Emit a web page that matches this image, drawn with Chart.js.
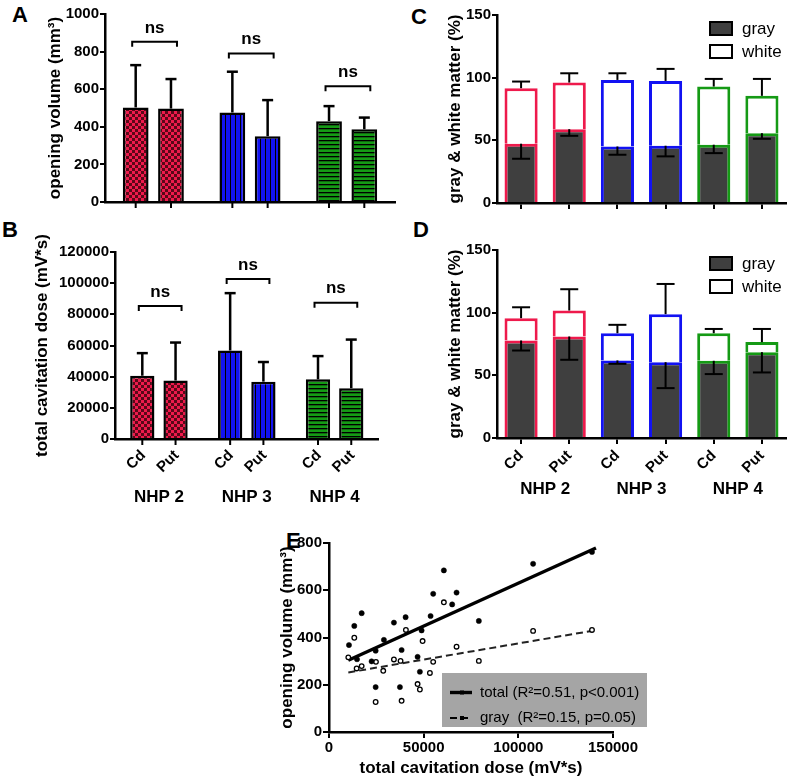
<!DOCTYPE html>
<html><head><meta charset="utf-8">
<script src="https://cdn.jsdelivr.net/npm/chart.js@4.4.1/dist/chart.umd.min.js"></script>
<style>
body{margin:0;background:#fff;width:787px;height:783px;position:relative;overflow:hidden;font-family:"Liberation Sans",Arial,sans-serif}
canvas{position:absolute}
.lt{position:absolute;font:bold 22px "Liberation Sans",Arial,sans-serif;line-height:22px;color:#000}
</style></head><body>
<div class="lt" style="left:12px;top:4px">A</div>
<div class="lt" style="left:2px;top:219px">B</div>
<div class="lt" style="left:411px;top:6px">C</div>
<div class="lt" style="left:413px;top:219px">D</div>
<div class="lt" style="left:286px;top:530px">E</div>
<canvas id="cA" width="400" height="220" style="left:0;top:0"></canvas>
<canvas id="cB" width="400" height="300" style="left:0;top:220px"></canvas>
<canvas id="cC" width="387" height="220" style="left:400px;top:0"></canvas>
<canvas id="cD" width="387" height="300" style="left:400px;top:220px"></canvas>
<canvas id="cE" width="430" height="258" style="left:240px;top:525px"></canvas>
<script>
// ---------------- data ----------------
const nhpGroups = ['NHP 2', 'NHP 3', 'NHP 4'];
const regions = ['Cd', 'Put'];
// A: opening volume (mm3)
const volumeCd = [503, 476, 430];
const volumeCdSD = [225, 217, 80];
const volumePut = [497, 350, 387];
const volumePutSD = [157, 192, 62];
const volumeBrackets = [852, 790, 616];
const volumeTicks = [0, 200, 400, 600, 800, 1000];
// B: total cavitation dose (mV*s)
const doseCd = [40600, 56800, 38300];
const doseCdSD = [14500, 36800, 14900];
const dosePut = [37500, 36800, 32600];
const dosePutSD = [24400, 12600, 31200];
const doseBrackets = [85400, 102600, 87500];
const doseTicks = [0, 20000, 40000, 60000, 80000, 100000, 120000];
// C, D: gray & white matter (%)
const barLabels = ['Cd', 'Put', 'Cd', 'Put', 'Cd', 'Put'];
const grayC = [47.3, 58.9, 45.1, 45.7, 46.5, 55.7];
const grayCSD = [12.0, 5.3, 6.6, 8.5, 6.7, 4.5];
const whiteC = [44.3, 37.2, 53.1, 51.7, 46.4, 29.8];
const whiteCSD = [5.3, 7.4, 5.3, 9.6, 6.1, 13.5];
const grayD = [77.8, 81.0, 61.9, 60.5, 61.6, 68.5];
const grayDSD = [8.0, 18.6, 2.7, 20.7, 10.6, 16.2];
const whiteD = [17.8, 20.7, 21.7, 38.3, 22.0, 8.0];
const whiteDSD = [8.7, 17.0, 6.7, 24.1, 3.4, 10.5];
const percentTicks = [0, 50, 100, 150];
// E: scatter
const totalDose = [10550, 13360, 17250, 14800, 22500, 24640, 24640, 29000, 34290, 40460, 38350, 37460, 46790, 48000, 48900, 53650, 55030, 60670, 65050, 67370, 79140, 107800, 138900];
const totalVolume = [368, 449, 503, 308, 299, 344, 190, 390, 463, 486, 347, 190, 318, 255, 430, 491, 585, 684, 540, 590, 470, 712, 762];
const grayDose = [10200, 13360, 14600, 17250, 24800, 28650, 34290, 37800, 40620, 49440, 55030, 53290, 46790, 48000, 60670, 67370, 79140, 107800, 138900, 24640, 38350];
const grayVolume = [316, 399, 269, 279, 297, 259, 307, 301, 432, 385, 297, 250, 203, 180, 549, 361, 301, 428, 432, 127, 132];
const totalFitDose = [10200, 141000];
const totalFitVolume = [304, 779];
const grayFitDose = [10200, 139500];
const grayFitVolume = [252, 429];
const scatterXTicks = [0, 50000, 100000, 150000];
const scatterYTicks = [0, 200, 400, 600, 800];

// ---------------- styles ----------------
const FONT = '"Liberation Sans", Arial, Helvetica, sans-serif';
Chart.defaults.font.family = FONT;
Chart.defaults.color = '#000';
Chart.defaults.animation = false;
Chart.defaults.plugins.legend.display = false;
Chart.defaults.plugins.tooltip.enabled = false;
const RED = '#ee1a4c', BLUE = '#1212f2', GREEN = '#159a15', DARKGRAY = '#3f3f3f';
const groupBorder = [RED, RED, BLUE, BLUE, GREEN, GREEN];

function makePattern(kind, color) {
  const c = document.createElement('canvas');
  const g = c.getContext('2d');
  if (kind === 'check') {
    c.width = 6; c.height = 6;
    g.fillStyle = color; g.fillRect(0, 0, 6, 6);
    g.fillStyle = '#5a0818'; g.fillRect(0, 0, 3, 3); g.fillRect(3, 3, 3, 3);
  } else if (kind === 'v') {
    c.width = 5; c.height = 5;
    g.fillStyle = color; g.fillRect(0, 0, 5, 5);
    g.fillStyle = '#000'; g.fillRect(0, 0, 1, 5);
  } else {
    c.width = 4; c.height = 4;
    g.fillStyle = color; g.fillRect(0, 0, 4, 4);
    g.fillStyle = '#000'; g.fillRect(0, 0, 4, 1.3);
  }
  return g.createPattern(c, 'repeat');
}
const groupFill = [makePattern('check', RED), makePattern('v', BLUE), makePattern('h', GREEN)];

function seg(ctx, x0, y0, x1, y1, w) {
  ctx.beginPath(); ctx.lineWidth = w; ctx.strokeStyle = '#000';
  ctx.moveTo(x0, y0); ctx.lineTo(x1, y1); ctx.stroke();
}

function yAxis(text, ticks, width, titleSize) {
  return {
    min: ticks[0], max: ticks[ticks.length - 1],
    afterBuildTicks: s => { s.ticks = ticks.map(v => ({ value: v })); },
    ticks: { font: { weight: 'bold', size: 15 }, padding: 1, color: '#000', callback: v => String(v) },
    grid: { display: true, drawOnChartArea: false, drawTicks: true, tickLength: 5, color: '#000', lineWidth: 2 },
    border: { display: true, color: '#000', width: 2.5 },
    title: { display: true, text: text, font: { weight: 'bold', size: titleSize || 17 }, color: '#000', padding: { top: 4, bottom: 4 } },
    afterFit: s => { s.width = width; }
  };
}

// grouped bar panels (A, B)
function groupedPlugin(sds, brackets, rotLabels) {
  return {
    id: 'grouped',
    afterDatasetsDraw(chart) {
      const ctx = chart.ctx, y = chart.scales.y, bottom = chart.chartArea.bottom;
      ctx.save();
      sds.forEach((sd, di) => {
        const meta = chart.getDatasetMeta(di);
        const data = chart.data.datasets[di].data;
        meta.data.forEach((el, i) => {
          const top = y.getPixelForValue(data[i] + sd[i]);
          seg(ctx, el.x, el.y, el.x, top, 2.5);
          seg(ctx, el.x - 5.5, top, el.x + 5.5, top, 2.5);
          seg(ctx, el.x, bottom, el.x, bottom + 6, 2);
          if (rotLabels) {
            ctx.save();
            ctx.translate(el.x + 1, bottom + 14);
            ctx.rotate(-Math.PI / 4);
            ctx.font = 'bold 15px ' + FONT; ctx.fillStyle = '#000';
            ctx.textAlign = 'right'; ctx.textBaseline = 'middle';
            ctx.fillText(chart.data.datasets[di].label, 0, 0);
            ctx.restore();
          }
        });
      });
      const m0 = chart.getDatasetMeta(0), m1 = chart.getDatasetMeta(1);
      brackets.forEach((v, i) => {
        const x0 = m0.data[i].x - 3.5, x1 = m1.data[i].x + 6;
        const yy = y.getPixelForValue(v);
        ctx.beginPath(); ctx.lineWidth = 2; ctx.strokeStyle = '#000';
        ctx.moveTo(x0, yy + 5); ctx.lineTo(x0, yy); ctx.lineTo(x1, yy); ctx.lineTo(x1, yy + 5); ctx.stroke();
        ctx.font = 'bold 17px ' + FONT; ctx.fillStyle = '#000';
        ctx.textAlign = 'center'; ctx.textBaseline = 'middle';
        ctx.fillText('ns', (x0 + x1) / 2, yy - 14);
      });
      ctx.restore();
    }
  };
}

function groupedChart(id, cd, cdSD, put, putSD, brackets, ticks, title, opt) {
  return new Chart(document.getElementById(id), {
    type: 'bar',
    data: {
      labels: nhpGroups,
      datasets: [
        { label: regions[0], data: cd, backgroundColor: groupFill, borderColor: '#000', borderWidth: 2.5 },
        { label: regions[1], data: put, backgroundColor: groupFill, borderColor: '#000', borderWidth: 2.5 }
      ]
    },
    options: {
      responsive: false,
      layout: { padding: opt.padding },
      datasets: { bar: { categoryPercentage: opt.cat, barPercentage: 0.73 } },
      scales: {
        x: {
          grid: { display: false },
          border: { display: true, color: '#000', width: 2.5 },
          ticks: { display: opt.groupLabels, font: { weight: 'bold', size: 17 }, padding: opt.labelPad, color: '#000', maxRotation: 0 },
          afterFit: s => { s.height = opt.xHeight; }
        },
        y: yAxis(title, ticks, opt.yWidth)
      }
    },
    plugins: [groupedPlugin([cdSD, putSD], brackets, opt.rotLabels)]
  });
}

groupedChart('cA', volumeCd, volumeCdSD, volumePut, volumePutSD, volumeBrackets, volumeTicks, 'opening volume (mm³)',
  { padding: { left: 41, right: 5, top: 14, bottom: 0 }, cat: 0.73, groupLabels: false, labelPad: 0, xHeight: 18, yWidth: 64, rotLabels: false });
groupedChart('cB', doseCd, doseCdSD, dosePut, dosePutSD, doseBrackets, doseTicks, 'total cavitation dose (mV*s)',
  { padding: { left: 28, right: 2, top: 32, bottom: 0 }, cat: 0.757, groupLabels: true, labelPad: 40, xHeight: 81, yWidth: 87, rotLabels: true });

// stacked panels (C, D)
function stackedPlugin(gray, graySD, white, whiteSD, groupLabels) {
  return {
    id: 'stacked',
    afterDatasetsDraw(chart) {
      const ctx = chart.ctx, y = chart.scales.y, x = chart.scales.x, area = chart.chartArea;
      ctx.save();
      const mg = chart.getDatasetMeta(0), mw = chart.getDatasetMeta(1);
      mg.data.forEach((el, i) => {
        const b = y.getPixelForValue(gray[i] - graySD[i]);
        seg(ctx, el.x, el.y, el.x, b, 2);
        seg(ctx, el.x - 9, b, el.x + 9, b, 2);
      });
      mw.data.forEach((el, i) => {
        const t = y.getPixelForValue(gray[i] + white[i] + whiteSD[i]);
        seg(ctx, el.x, el.y, el.x, t, 2);
        seg(ctx, el.x - 9, t, el.x + 9, t, 2);
      });
      // legend
      const lx = area.left + 213, ly = area.top + 7;
      chart.data.datasets.forEach((ds, i) => {
        const yy = ly + i * 23;
        ctx.fillStyle = ds.legendFill; ctx.fillRect(lx, yy, 22, 13);
        ctx.lineWidth = 2; ctx.strokeStyle = '#000'; ctx.strokeRect(lx, yy, 22, 13);
        ctx.fillStyle = '#000'; ctx.font = '17px ' + FONT;
        ctx.textAlign = 'left'; ctx.textBaseline = 'middle';
        ctx.fillText(ds.label, lx + 32, yy + 7);
      });
      if (groupLabels) {
        ctx.font = 'bold 17px ' + FONT; ctx.textAlign = 'center'; ctx.textBaseline = 'middle'; ctx.fillStyle = '#000';
        nhpGroups.forEach((g, k) => {
          const cx = (x.getPixelForTick(2 * k) + x.getPixelForTick(2 * k + 1)) / 2;
          ctx.fillText(g, cx, area.bottom + 51);
        });
      }
      ctx.restore();
    }
  };
}

function stackedChart(id, gray, graySD, white, whiteSD, opt) {
  return new Chart(document.getElementById(id), {
    type: 'bar',
    data: {
      labels: barLabels,
      datasets: [
        { label: 'gray', data: gray, backgroundColor: DARKGRAY, legendFill: DARKGRAY, borderColor: groupBorder,
          borderWidth: 3, borderSkipped: 'start' },
        { label: 'white', data: white, backgroundColor: '#fff', legendFill: '#fff', borderColor: groupBorder,
          borderWidth: 3, borderSkipped: 'start' }
      ]
    },
    options: {
      responsive: false,
      layout: { padding: opt.padding },
      datasets: { bar: { categoryPercentage: 0.8, barPercentage: 0.86 } },
      scales: {
        x: {
          stacked: true,
          grid: { display: true, offset: false, drawOnChartArea: false, drawTicks: true, tickLength: 6, color: '#000', lineWidth: 2 },
          border: { display: true, color: '#000', width: 2.5 },
          ticks: { display: opt.labels, font: { weight: 'bold', size: 15 }, color: '#000', minRotation: 45, maxRotation: 45, autoSkip: false, padding: 3 },
          afterFit: s => { s.height = opt.xHeight; }
        },
        y: Object.assign(yAxis('gray & white matter (%)', percentTicks, 56), { stacked: true })
      }
    },
    plugins: [stackedPlugin(gray, graySD, white, whiteSD, opt.labels)]
  });
}
stackedChart('cC', grayC, grayCSD, whiteC, whiteCSD, { padding: { left: 41, right: 1, top: 15, bottom: 0 }, xHeight: 17, labels: false });
stackedChart('cD', grayD, grayDSD, whiteD, whiteDSD, { padding: { left: 41, right: 1, top: 30, bottom: 0 }, xHeight: 82, labels: true });

// E scatter
const scatterLegend = {
  id: 'scatterLegend',
  afterDraw(chart) {
    const ctx = chart.ctx, a = chart.chartArea;
    const bx = a.left + 113, by = a.top + 130, bw = 205, bh = 54;
    ctx.save();
    ctx.fillStyle = '#a5a5a5'; ctx.fillRect(bx, by, bw, bh);
    [2, 3].forEach((di, k) => {
      const ds = chart.data.datasets[di];
      const yy = by + 19.5 + k * 25.5;
      ctx.beginPath(); ctx.strokeStyle = '#000'; ctx.lineWidth = ds.borderWidth;
      ctx.setLineDash(ds.borderDash || []);
      ctx.moveTo(bx + 8, yy); ctx.lineTo(bx + 30, yy); ctx.stroke();
      ctx.setLineDash([]);
      ctx.fillStyle = '#000'; ctx.fillRect(bx + 18, yy - 2, 4, 4);
      ctx.font = '15px ' + FONT; ctx.textAlign = 'left'; ctx.textBaseline = 'middle';
      ctx.fillText(ds.label, bx + 38, yy);
    });
    ctx.restore();
  }
};
function linearAxis(ticks, title) {
  return {
    type: 'linear', min: ticks[0], max: ticks[ticks.length - 1],
    afterBuildTicks: s => { s.ticks = ticks.map(v => ({ value: v })); },
    ticks: { font: { weight: 'bold', size: 15 }, padding: 1, color: '#000', callback: v => String(v) },
    grid: { display: true, drawOnChartArea: false, drawTicks: true, tickLength: 6, color: '#000', lineWidth: 2 },
    border: { display: true, color: '#000', width: 2.5 },
    title: { display: true, text: title, font: { weight: 'bold', size: 17 }, color: '#000', padding: { top: 4, bottom: 4 } }
  };
}
const xE = linearAxis(scatterXTicks, 'total cavitation dose (mV*s)');
xE.afterFit = s => { s.height = 51; };
const yE = linearAxis(scatterYTicks, 'opening volume (mm³)');
yE.afterFit = s => { s.width = 56; };
new Chart(document.getElementById('cE'), {
  type: 'scatter',
  data: {
    datasets: [
      { label: 'total', data: totalDose.map((x, i) => ({ x: x, y: totalVolume[i] })), pointRadius: 2.6,
        pointBackgroundColor: '#000', pointBorderColor: '#000', pointBorderWidth: 0.5 },
      { label: 'gray', data: grayDose.map((x, i) => ({ x: x, y: grayVolume[i] })), pointRadius: 2.3,
        pointBackgroundColor: '#fff', pointBorderColor: '#000', pointBorderWidth: 1.3 },
      { type: 'line', label: 'total (R²=0.51, p<0.001)', data: totalFitDose.map((x, i) => ({ x: x, y: totalFitVolume[i] })),
        borderColor: '#000', borderWidth: 3.4, pointRadius: 0, fill: false },
      { type: 'line', label: 'gray  (R²=0.15, p=0.05)', data: grayFitDose.map((x, i) => ({ x: x, y: grayFitVolume[i] })),
        borderColor: '#222', borderWidth: 2, borderDash: [7, 4], pointRadius: 0, fill: false }
    ]
  },
  options: {
    responsive: false,
    layout: { padding: { left: 33, right: 57, top: 18, bottom: 0 } },
    scales: { x: xE, y: yE }
  },
  plugins: [scatterLegend]
});
</script>
</body></html>
